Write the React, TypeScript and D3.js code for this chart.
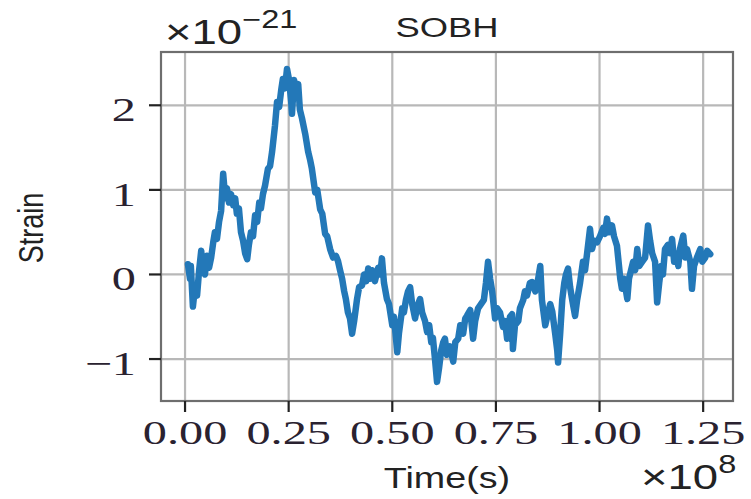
import React from "react";
import * as d3 from "d3";

const WIDTH = 751;
const HEIGHT = 499;
const MARGIN = { top: 52, right: 18, bottom: 98, left: 161 };

// time in units of 1e8 s, strain in units of 1e-21
const times = [
  0.007, 0.012, 0.014, 0.019, 0.024, 0.029, 0.034, 0.039, 0.043, 0.048,
  0.053, 0.058, 0.063, 0.068, 0.072, 0.077, 0.082, 0.087, 0.092, 0.097,
  0.101, 0.106, 0.111, 0.116, 0.121, 0.125, 0.13, 0.135, 0.14, 0.145,
  0.15, 0.154, 0.159, 0.164, 0.169, 0.174, 0.179, 0.183, 0.188, 0.193,
  0.2, 0.205, 0.21, 0.217, 0.222, 0.227, 0.232, 0.236, 0.241, 0.246,
  0.251, 0.256, 0.258, 0.263, 0.268, 0.273, 0.277, 0.282, 0.29, 0.297,
  0.302, 0.306, 0.314, 0.319, 0.326, 0.331, 0.338, 0.343, 0.35, 0.357,
  0.364, 0.369, 0.374, 0.379, 0.384, 0.388, 0.393, 0.398, 0.403, 0.408,
  0.415, 0.42, 0.427, 0.432, 0.437, 0.442, 0.446, 0.451, 0.458, 0.466,
  0.471, 0.475, 0.48, 0.487, 0.492, 0.5, 0.504, 0.512, 0.516, 0.524,
  0.528, 0.533, 0.538, 0.543, 0.548, 0.555, 0.56, 0.567, 0.572, 0.579,
  0.584, 0.589, 0.594, 0.598, 0.603, 0.608, 0.613, 0.618, 0.623, 0.627,
  0.632, 0.639, 0.647, 0.652, 0.659, 0.664, 0.671, 0.676, 0.68, 0.688,
  0.695, 0.7, 0.707, 0.714, 0.721, 0.726, 0.731, 0.736, 0.741, 0.748,
  0.753, 0.76, 0.767, 0.772, 0.777, 0.784, 0.789, 0.791, 0.796, 0.804,
  0.808, 0.816, 0.82, 0.825, 0.832, 0.837, 0.845, 0.852, 0.857, 0.861,
  0.869, 0.876, 0.881, 0.886, 0.893, 0.898, 0.9, 0.905, 0.91, 0.915,
  0.919, 0.924, 0.929, 0.934, 0.941, 0.946, 0.953, 0.96, 0.965, 0.97,
  0.977, 0.982, 0.987, 0.994, 1.001, 1.009, 1.013, 1.018, 1.023, 1.03,
  1.035, 1.042, 1.047, 1.05, 1.054, 1.059, 1.067, 1.071, 1.076, 1.081,
  1.086, 1.091, 1.096, 1.103, 1.11, 1.117, 1.122, 1.127, 1.134, 1.139,
  1.144, 1.149, 1.153, 1.158, 1.165, 1.17, 1.175, 1.18, 1.185, 1.19,
  1.194, 1.202, 1.207, 1.211, 1.219, 1.223, 1.228, 1.235, 1.243, 1.248,
  1.255, 1.26, 1.267,
];

const strain = [
  0.12, -0.05, 0.1, -0.38, -0.15, -0.25, 0.05, 0.28, 0.05, 0.0,
  0.22, 0.08, 0.2, 0.38, 0.5, 0.42, 0.62, 0.75, 1.19, 0.9,
  1.02, 0.85, 0.95, 0.82, 0.9, 0.72, 0.78, 0.5, 0.4, 0.25,
  0.18, 0.35, 0.5, 0.45, 0.7, 0.62, 0.85, 0.78, 0.95, 1.05,
  1.25, 1.28, 1.45, 1.76, 2.04, 1.98, 2.18, 2.31, 2.2, 2.43,
  2.3, 2.05, 1.9, 2.3, 2.15, 2.25, 1.95, 1.85, 1.66, 1.45,
  1.35, 1.25, 0.97, 1.0, 0.77, 0.72, 0.48, 0.45, 0.3, 0.2,
  0.22, 0.16, 0.05, -0.05, -0.2, -0.29, -0.45, -0.52, -0.7, -0.55,
  -0.29, -0.15, -0.13, 0.0, -0.08, 0.07, -0.05, 0.05, -0.08, 0.08,
  0.0, 0.19, -0.1, -0.29, -0.35, -0.6, -0.5, -0.92, -0.7, -0.4,
  -0.45, -0.3, -0.2, -0.15, -0.35, -0.52, -0.38, -0.29, -0.45, -0.55,
  -0.68, -0.6, -0.8, -0.75, -1.0, -1.27, -1.1, -0.9, -0.8, -0.76,
  -0.95, -0.85, -1.03, -0.8, -0.76, -0.6, -0.7, -0.52, -0.49, -0.42,
  -0.76, -0.55, -0.4, -0.35, -0.3, -0.1, 0.15, -0.05, -0.2, -0.52,
  -0.4, -0.45, -0.62, -0.55, -0.76, -0.5, -0.47, -0.88, -0.6, -0.55,
  -0.4, -0.3, -0.2, -0.25, -0.1, -0.09, -0.2, -0.05, 0.1, -0.3,
  -0.6, -0.45, -0.35, -0.44, -0.7, -0.9, -1.04, -0.7, -0.3, -0.1,
  0.0, 0.07, -0.15, -0.3, -0.49, -0.3, -0.1, 0.15, 0.05, 0.25,
  0.54, 0.3, 0.4, 0.38, 0.45, 0.55, 0.48, 0.66, 0.5, 0.58,
  0.45, 0.34, 0.1, -0.05, -0.17, -0.05, -0.29, -0.05, 0.05, 0.15,
  0.05, 0.3, 0.1, 0.15, 0.2, 0.58, 0.4, 0.25, 0.15, -0.33,
  -0.1, 0.1, 0.0, 0.3, 0.35, 0.25, 0.42, 0.15, 0.25, 0.1,
  0.3, 0.46, 0.2, 0.3, 0.15, -0.17, 0.1, 0.2, 0.3, 0.15,
  0.2, 0.28, 0.24,
];

const xTicks = [0, 0.25, 0.5, 0.75, 1.0, 1.25];
const xTickLabels = ["0.00", "0.25", "0.50", "0.75", "1.00", "1.25"];
const yTicks = [-1, 0, 1, 2];
const yTickLabels = ["\u22121", "0", "1", "2"];

const SANS = "'Liberation Sans', Arial, sans-serif";
const SERIF = "'Liberation Serif', 'Times New Roman', serif";
const STRETCH = 1.3; // the picture is widened a bit

const App = () => {
  const x = d3
    .scaleLinear()
    .domain([-0.058, 1.322])
    .range([MARGIN.left, WIDTH - MARGIN.right]);
  const y = d3
    .scaleLinear()
    .domain([-1.496, 2.63])
    .range([HEIGHT - MARGIN.bottom, MARGIN.top]);

  const points = times.map((t, i) => [t, strain[i]] as [number, number]);
  const linePath = d3
    .line<[number, number]>()
    .x((d) => x(d[0]))
    .y((d) => y(d[1]))(points);

  const [x0, x1] = x.range();
  const [y0, y1] = y.range();
  const cx = (x0 + x1) / 2;

  return (
    <svg
      width={WIDTH}
      height={HEIGHT}
      style={{ position: "absolute", left: 0, top: 0, background: "white" }}
    >
      {/* grid */}
      {xTicks.map((t) => (
        <line key={"gx" + t} x1={x(t)} x2={x(t)} y1={y1} y2={y0} stroke="#b8b8b8" strokeWidth={2.2} />
      ))}
      {yTicks.map((t) => (
        <line key={"gy" + t} x1={x0} x2={x1} y1={y(t)} y2={y(t)} stroke="#b8b8b8" strokeWidth={2.2} />
      ))}

      <path
        d={linePath ?? ""}
        fill="none"
        stroke="#2378b8"
        strokeWidth={6.5}
        strokeLinejoin="round"
        strokeLinecap="round"
      />

      {/* frame */}
      <rect x={x0} y={y1} width={x1 - x0} height={y0 - y1} fill="none" stroke="#6e6e6e" strokeWidth={2.2} />

      {/* ticks */}
      {xTicks.map((t, i) => (
        <g key={"tx" + t}>
          <line x1={x(t)} x2={x(t)} y1={y0} y2={y0 + 11} stroke="#222" strokeWidth={2.2} />
          <text
            transform={`translate(${x(t)},${y0 + 43}) scale(1.42,1)`}
            textAnchor="middle"
            fontFamily={SERIF}
            fontSize={34}
            fill="#2a2230"
          >
            {xTickLabels[i]}
          </text>
        </g>
      ))}
      {yTicks.map((t, i) => (
        <g key={"ty" + t}>
          <line x1={x0 - 12} x2={x0} y1={y(t)} y2={y(t)} stroke="#222" strokeWidth={2.2} />
          <text
            transform={`translate(${x0 - 25},${y(t) + 16}) scale(1.42,1)`}
            textAnchor="end"
            fontFamily={SERIF}
            fontSize={34}
            fill="#2a2230"
          >
            {yTickLabels[i]}
          </text>
        </g>
      ))}

      {/* title and labels */}
      <text
        transform={`translate(${cx},37) scale(${STRETCH},1)`}
        textAnchor="middle"
        fontFamily={SANS}
        fontSize={28}
        fill="#222"
      >
        SOBH
      </text>
      <text
        transform={`translate(${cx},488) scale(${STRETCH},1)`}
        textAnchor="middle"
        fontFamily={SANS}
        fontSize={29}
        fill="#222"
      >
        Time(s)
      </text>
      <text
        transform={`translate(43,228) scale(${STRETCH},1) rotate(-90)`}
        textAnchor="middle"
        fontFamily={SANS}
        fontSize={27}
        fill="#222"
      >
        Strain
      </text>

      {/* offset texts */}
      <g transform={`translate(165,44) scale(${STRETCH},1)`}>
        <text fontFamily={SANS} fontSize={35} fill="#222">
          ×10
          <tspan dy={-16} fontSize={25}>
            −21
          </tspan>
        </text>
      </g>
      <g transform={`translate(641,489) scale(${STRETCH},1)`}>
        <text fontFamily={SANS} fontSize={35} fill="#222">
          ×10
          <tspan dy={-16} fontSize={25}>
            8
          </tspan>
        </text>
      </g>
    </svg>
  );
};

export default App;
